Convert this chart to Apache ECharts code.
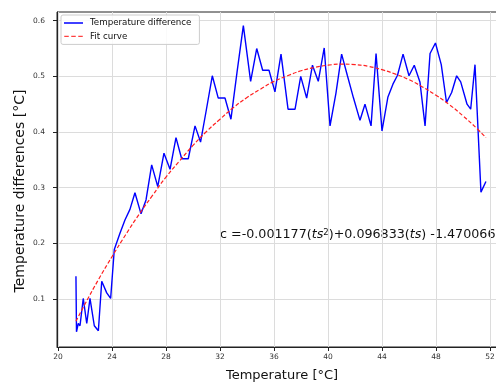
<!DOCTYPE html>
<html>
<head>
<meta charset="utf-8">
<script src="https://cdn.jsdelivr.net/npm/echarts@6/dist/echarts.min.js"></script>
<style>html,body{margin:0;padding:0;background:#fff}#c{width:496px;height:383px}</style>
</head>
<body>
<div id="c"></div>
<script>
var temps = [21.33,21.37,21.50,21.63,21.87,22.13,22.37,22.69,22.99,23.24,23.61,23.90,24.17,24.59,24.96,25.33,25.70,26.15,26.52,26.94,27.39,27.85,28.30,28.74,29.16,29.65,30.15,30.56,30.99,31.43,31.87,32.37,32.81,33.26,33.73,34.27,34.72,35.16,35.63,36.07,36.52,37.04,37.56,37.98,38.42,38.85,39.28,39.72,40.15,40.59,41.01,41.44,41.89,42.37,42.74,43.19,43.56,44.00,44.44,44.81,45.15,45.56,46.00,46.39,46.81,47.19,47.56,47.96,48.39,48.78,49.16,49.53,49.83,50.30,50.57,50.89,51.33,51.70];
var diffs = [0.141,0.041,0.056,0.052,0.101,0.056,0.101,0.052,0.043,0.132,0.111,0.101,0.189,0.218,0.242,0.261,0.291,0.253,0.278,0.341,0.302,0.362,0.333,0.390,0.352,0.352,0.411,0.382,0.440,0.501,0.461,0.461,0.423,0.507,0.591,0.491,0.550,0.511,0.511,0.472,0.540,0.441,0.441,0.500,0.461,0.520,0.491,0.551,0.411,0.470,0.540,0.501,0.461,0.421,0.450,0.411,0.541,0.402,0.463,0.486,0.502,0.540,0.501,0.520,0.490,0.411,0.541,0.560,0.521,0.453,0.471,0.501,0.490,0.450,0.441,0.521,0.292,0.311];
var fitTemps = [21.33,22,23,24,25,26,27,28,29,30,31,32,33,34,35,36,37,38,39,40,41,42,43,44,45,46,47,48,49,50,51,51.7];
var fitValues = [0.060,0.091,0.135,0.176,0.215,0.252,0.286,0.319,0.348,0.376,0.401,0.423,0.444,0.462,0.477,0.491,0.501,0.510,0.516,0.520,0.522,0.521,0.518,0.512,0.504,0.494,0.481,0.466,0.449,0.429,0.407,0.390];
var xTicks = [20,24,28,32,36,40,44,48,52];
var yTicks = [0.1,0.2,0.3,0.4,0.5,0.6];

var font = 'DejaVu Sans';
var chart = echarts.init(document.getElementById('c'), null, {renderer:'canvas'});
chart.setOption({
  animation: false,
  textStyle: {fontFamily: font},
  grid: {left:57, top:12, width:450, bottom:36, show:true, borderColor:'#222', borderWidth:1, backgroundColor:'transparent', containLabel:false, outerBoundsMode:'none'},
  legend: {
    left: 61, top: 15, orient: 'vertical',
    itemWidth: 19, itemHeight: 10, itemGap: 3.4,
    padding: [3, 8, 3, 3],
    backgroundColor: 'rgba(255,255,255,0.85)', borderColor: '#cccccc', borderWidth: 1, borderRadius: 2,
    textStyle: {fontFamily: font, fontSize: 8.7, color: '#111', padding:[0,0,0,2]},
    data: [
      {name: 'Temperature difference', icon: 'path://M0,4.3h19v1.4h-19z M0,0h0.01v0.01h-0.01z M0,9.99h0.01v0.01h-0.01z', itemStyle: {color: '#0000ff'}},
      {name: 'Fit curve', icon: 'path://M0,4.4h4.5v1.2h-4.5z M7,4.4h4.5v1.2h-4.5z M14,4.4h4.5v1.2h-4.5z M0,0h0.01v0.01h-0.01z M0,9.99h0.01v0.01h-0.01z', itemStyle: {color: '#ff4040'}}
    ]
  },
  xAxis: {
    type: 'value', min: 19.926, max: 53.26,
    name: 'Temperature [°C]', nameLocation: 'middle', nameGap: 22,
    nameTextStyle: {fontFamily: font, fontSize: 13, color: '#111'},
    axisLine: {show: true, lineStyle: {color: '#222', width: 1}},
    axisTick: {show: true, length: 4, customValues: xTicks, lineStyle: {color: '#222'}},
    axisLabel: {customValues: xTicks, fontSize: 7.5, color: '#333', margin: 6, fontFamily: font},
    splitLine: {show: true, lineStyle: {color: '#dcdcdc', width: 1}}
  },
  yAxis: {
    type: 'value', min: 0.0138, max: 0.6156,
    axisLine: {show: true, lineStyle: {color: '#222', width: 1}},
    axisTick: {show: true, length: 4, customValues: yTicks, lineStyle: {color: '#222'}},
    axisLabel: {customValues: yTicks, fontSize: 7.5, color: '#333', margin: 12, fontFamily: font,
      formatter: function (v) { return v.toFixed(1); }},
    splitLine: {show: true, lineStyle: {color: '#dcdcdc', width: 1}}
  },
  series: [
    {
      name: 'Temperature difference', type: 'line', symbol: 'none',
      data: temps.map(function (t, i) { return [t, diffs[i]]; }),
      lineStyle: {color: '#0000ff', width: 1.4}, itemStyle: {color: '#0000ff'}, z: 3
    },
    {
      name: 'Fit curve', type: 'line', symbol: 'none', smooth: true,
      data: fitTemps.map(function (t, i) { return [t, fitValues[i]]; }),
      lineStyle: {color: '#ff2020', width: 1.2, type: [4, 2]}, itemStyle: {color: '#ff2020'}, z: 4
    }
  ],
  graphic: [
    {
      type: 'text', x: 20, y: 191, rotation: Math.PI / 2,
      style: {text: 'Temperature differences [°C]', fontFamily: font, fontSize: 14, fill: '#111', align: 'center', verticalAlign: 'middle'}
    },
    {
      type: 'text', left: 220, top: 228,
      style: {
        text: 'c =-0.001177({i|ts}{s|2})+0.096833({i|ts}) -1.470066',
        fontFamily: font, fontSize: 12.7, fill: '#111',
        rich: {
          i: {fontFamily: font, fontSize: 12.7, fontStyle: 'italic', fill: '#111'},
          s: {fontFamily: font, fontSize: 8.5, fill: '#111', verticalAlign: 'top', padding: [0,0,5,0]}
        }
      }
    }
  ]
});
</script>
</body>
</html>
